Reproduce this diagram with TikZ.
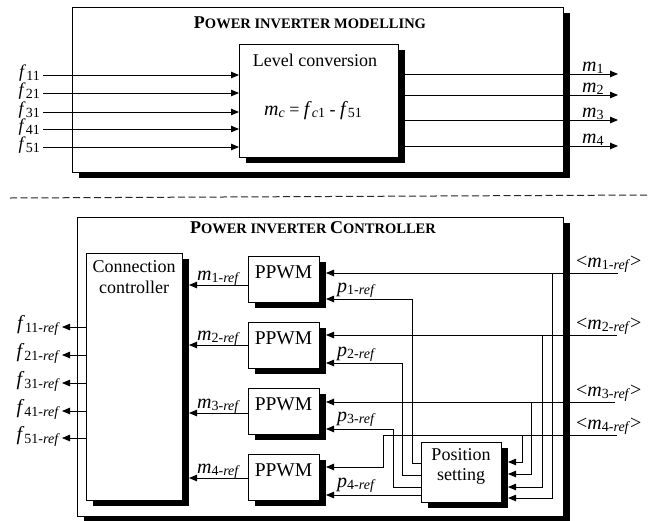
\documentclass[tikz,border=0pt]{standalone}
\usepackage{fontspec}
\setmainfont{Liberation Serif}
\usetikzlibrary{arrows.meta,shadows}
\newcommand\subsz{\fontsize{14}{14}\selectfont}
\newcommand\sig[2]{{\fontsize{20}{20}\selectfont\textit{#1}}\raisebox{-2.5pt}{\subsz #2}}
\newcommand\sigs[2]{{\fontsize{18}{18}\selectfont\textit{#1}}\raisebox{-2.5pt}{\subsz #2}}
\newcommand\rf{\textit{ref}}
\newcommand\bigc[1]{{\fontsize{18}{18}\selectfont #1}}
\newcommand\smc[1]{{\fontsize{14.5}{14.5}\selectfont #1}}
\begin{document}
\begin{tikzpicture}[x=1pt,y=-1pt,
  every node/.style={inner sep=0pt, font=\fontsize{18}{21}\selectfont},
  shbox/.style={draw, fill=white, line width=0.8pt, anchor=north west,
     drop shadow={shadow xshift=6.5pt, shadow yshift=-5.5pt, opacity=1, fill=black}},
  arr/.style={line width=0.85pt, -{Triangle[length=8pt,width=6.5pt]}},
  txt/.style={anchor=base}]
\fill[white] (0,0) rectangle (661,520);
\useasboundingbox (0,0) rectangle (661,520);

% ---------- modelling part
\node[shbox, minimum width=491pt, minimum height=165pt] (top) at (72,7) {};
\node[txt] (t1) at (310,28.5) {\textbf{\bigc{P}\smc{OWER INVERTER MODELLING}}};
\node[shbox, minimum width=159pt, minimum height=113pt] (lc) at (239,44) {};
\node[txt] (lct) at (315,66) {Level conversion};
\node[txt] (lcf) at (313,115) {\sig{m}{\textit{c}} = \sig{f}{\textit{c}1} - \sig{f}{51}};

\foreach \i/\yy in {11/75, 21/93, 31/112, 41/129, 51/147}{
  \coordinate (fin\i) at (43,\yy);
  \node[anchor=base east] (flab\i) at ([shift={(-3,2.5)}]fin\i) {\sigs{f}{\i}};
  \draw[arr] (fin\i) -- (fin\i -| lc.west);
}
\foreach \i/\yy in {1/74, 2/95, 3/120, 4/146}{
  \coordinate (mout\i) at (618,\yy);
  \draw[arr] (lc.east |- mout\i) -- (mout\i);
  \node[anchor=base west] (mlab\i) at ([shift={(-36,-3)}]mout\i) {\sig{m}{\i}};
}

% ---------- dashed separator
\coordinate (dl) at (10,198); \coordinate (dr) at (647,195);
\draw[black!85, line width=1pt, dash pattern=on 7pt off 3.5pt] (dl) -- (dr);

% ---------- controller part
\node[shbox, minimum width=486pt, minimum height=299pt] (ctl) at (77,217) {};
\node[txt] (t2) at (313,233) {\textbf{\bigc{P}\smc{OWER INVERTER }\bigc{C}\smc{ONTROLLER}}};
\node[shbox, minimum width=96pt, minimum height=247pt] (conn) at (86,253) {};
\node[txt] (ct1) at (134,272) {Connection};
\node[txt] (ct2) at (134,293) {controller};
\foreach \i/\yy in {1/256, 2/322, 3/388, 4/454}{
  \node[shbox, minimum width=71pt, minimum height=46pt] (pp\i) at (248,\yy) {};
  \node[txt, font=\fontsize{19.5}{21}\selectfont] (ppt\i) at (283.5,\yy+22) {PPWM};
}
\node[shbox, minimum width=80pt, minimum height=60pt] (ps) at (421,442) {};
\node[txt] (pst1) at (461,460) {Position};
\node[txt] (pst2) at (461,480) {setting};

% connection controller outputs
\foreach \i/\yy in {11/327, 21/355, 31/383, 41/411, 51/438}{
  \coordinate (fo\i) at (62,\yy);
  \draw[arr] (conn.west |- fo\i) -- (fo\i);
  \node[anchor=base east] (folab\i) at ([shift={(-2,2.5)}]fo\i) {\sig{f}{\i-\rf}};
}
% PPWM -> connection controller
\foreach \i/\yy in {1/285, 2/345, 3/413, 4/478}{
  \coordinate (mr\i) at (189,\yy);
  \draw[arr] (pp\i.west |- mr\i) -- (mr\i);
  \node[anchor=base west] (mrlab\i) at ([shift={(8,-5)}]mr\i) {\sig{m}{\i-\rf}};
}
% ports
\foreach \i/\a/\b in {1/273/299, 2/335/363, 3/402/429, 4/467/495}{
  \coordinate (pa\i) at (326,\a);
  \coordinate (pb\i) at (326,\b);
}
\foreach \i/\yy in {1/498, 2/487, 3/474, 4/462}{\coordinate (q\i) at (508,\yy);}
\foreach \i/\yy in {1/463, 2/475, 3/487, 4/495}{\coordinate (o\i) at (421,\yy);}

% reference inputs
\coordinate (mi1) at (618,273);
\coordinate (mi2) at (617,335);
\coordinate (mi3) at (615,402);
\coordinate (mi4) at (617,435);
\coordinate (k4) at (383,435);
\draw[arr] (mi1) -- (pa1);
\draw[arr] (mi2) -- (pa2);
\draw[arr] (mi3) -- (pa3);
\draw[arr] (mi4) -- (k4) |- (pa4);
\foreach \i/\yy in {1/267, 2/329, 3/396, 4/429}{
  \node[anchor=base west] (milab\i) at (576,\yy) {{\fontsize{20}{20}\selectfont <}\sig{m}{\i-\rf}{\fontsize{20}{20}\selectfont >}};
}
% branches to position setting
\coordinate (b1) at (552,273);
\coordinate (b2) at (542,335);
\coordinate (b3) at (531,402);
\coordinate (b4) at (522,435);
\foreach \i in {1,2,3,4}{\draw[arr] (b\i) |- (q\i);}

% position setting -> PPWM
\coordinate (v1) at (412,299);
\coordinate (v2) at (402,363);
\coordinate (v3) at (393,429);
\foreach \i in {1,2,3}{\draw[arr] (o\i) -| (v\i) -- (pb\i);}
\draw[arr] (o4) -- (pb4);
\foreach \i/\dy in {1/-7, 2/-7, 3/-8, 4/-8}{
  \node[anchor=base west] (plab\i) at ([shift={(11,\dy)}]pb\i) {\sig{p}{\i-\rf}};
}
\end{tikzpicture}
\end{document}
